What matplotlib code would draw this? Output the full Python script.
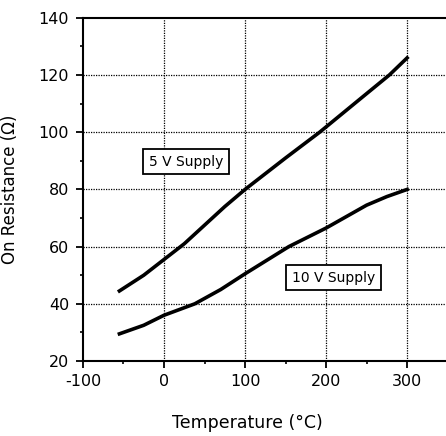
import matplotlib.pyplot as plt
from matplotlib.ticker import MultipleLocator

plt.rcParams['axes.unicode_minus'] = False

# 5 V and 10 V supply curves
temp_5v = [-55, -25, 0, 25, 50, 75, 100, 150, 192, 250, 278, 300]
ron_5v = [44.5, 50, 55.5, 61, 67.5, 74, 80, 91, 100, 113.5, 120, 126]
temp_10v = [-55, -25, 0, 38, 70, 100, 154, 200, 250, 275, 300]
ron_10v = [29.5, 32.5, 36, 40, 45, 50.5, 60, 66.5, 74.5, 77.5, 80]

fig = plt.figure(figsize=(4.46, 4.36), dpi=100)
ax = fig.add_axes([0.186, 0.172, 0.814, 0.787])

ax.plot(temp_5v, ron_5v, color='black', lw=2.6)
ax.plot(temp_10v, ron_10v, color='black', lw=2.6)

ax.set_xlim(-100, 348)
ax.set_ylim(20, 140)
ax.set_xticks([-100, 0, 100, 200, 300])
ax.set_yticks([20, 40, 60, 80, 100, 120, 140])
ax.xaxis.set_minor_locator(MultipleLocator(50))
ax.yaxis.set_minor_locator(MultipleLocator(10))
ax.tick_params(which='major', direction='out', length=5, width=1.3, labelsize=11.5)
ax.tick_params(axis='y', which='major', pad=5)
ax.tick_params(axis='x', which='major', pad=4)
ax.tick_params(which='minor', direction='out', length=2.5, width=1.2)

for v in [0, 100, 200, 300]:
    ax.axvline(v, color='black', lw=0.9, ls=(0, (1, 1)), zorder=0)
for v in [40, 60, 80, 100, 120]:
    ax.axhline(v, color='black', lw=0.9, ls=(0, (1, 1)), zorder=0)

ax.spines['right'].set_visible(False)
for s in ['left', 'top', 'bottom']:
    ax.spines[s].set_linewidth(1.5)

box = dict(boxstyle='square,pad=0.4', fc='white', ec='black', lw=1.3)
ax.text(27, 89.7, '5 V Supply', ha='center', va='center', fontsize=10, bbox=box)
ax.text(209, 49.2, '10 V Supply', ha='center', va='center', fontsize=10, bbox=box)

ax.set_xlabel('Temperature (°C)', fontsize=12.5)
ax.xaxis.set_label_coords(0.452, -0.155)
ax.set_ylabel('On Resistance (Ω)', fontsize=12)
ax.yaxis.set_label_coords(-0.175, 0.5)

fig.savefig('out.png', dpi=100)
